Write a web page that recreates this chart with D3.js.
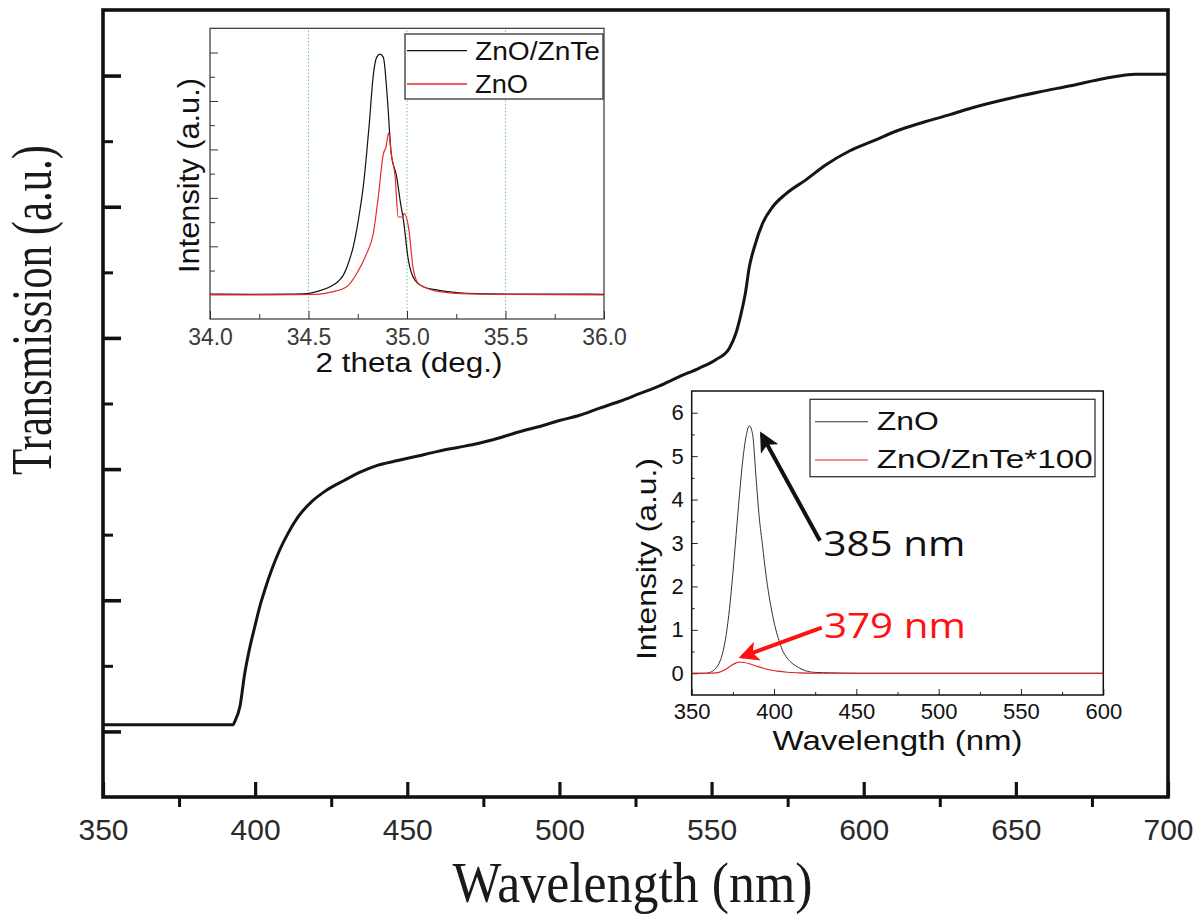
<!DOCTYPE html>
<html><head><meta charset="utf-8">
<script src="https://cdn.jsdelivr.net/npm/d3@7"></script>
<style>body{margin:0;background:#fff}</style>
</head><body>
<svg id="c" width="1200" height="918"></svg>
<script>
// ---------- Main transmission spectrum ----------
const transWavelength = [350,392.7,393.3,395.0,396.6,398.3,399.9,401.5,403.2,405.4,408.1,410.8,414.1,418.5,422.9,429.4,434.9,440.4,446.9,453.5,460.1,466.6,473.2,479.8,486.9,493.5,500.0,506.6,513.2,519.7,526.3,532.9,539.4,546.0,551.5,555.8,558.0,559.7,561.1,562.4,564.1,566.8,570.1,574.5,581.0,587.6,595.3,602.9,611.7,620.4,628.1,635.7,646.7,657.6,668.5,679.5,689.4,699.6];
const transValue = [1.10,1.10,1.15,1.38,1.89,2.29,2.60,2.90,3.16,3.46,3.77,4.02,4.27,4.50,4.66,4.83,4.96,5.06,5.13,5.20,5.27,5.33,5.39,5.47,5.57,5.65,5.74,5.82,5.93,6.03,6.15,6.27,6.41,6.54,6.67,6.84,7.07,7.37,7.68,8.08,8.39,8.75,9.00,9.20,9.41,9.64,9.85,10.00,10.17,10.30,10.40,10.51,10.64,10.75,10.85,10.96,11.02,11.02];
const mainXMajor = [350,400,450,500,550,600,650,700];
const mainXMinor = [375,425,475,525,575,625,675];
const mainYMajor = [1,3,5,7,9,11];
const mainYMinor = [2,4,6,8,10];

// ---------- XRD inset ----------
const xrdThetaA = [34.00,34.20,34.40,34.49,34.55,34.61,34.65,34.677,34.70,34.727,34.745,34.761,34.78,34.795,34.81,34.826,34.846,34.863,34.88,34.90,34.92,34.948,34.965,34.982,35.007,35.04,35.083,35.15,35.218,35.30,35.50,35.80,36.00];
const xrdZnOZnTe = [1.03,1.02,1.03,1.05,1.15,1.33,1.55,1.81,2.25,2.98,3.70,4.49,5.60,6.82,8.20,9.84,10.80,10.93,10.80,9.15,6.82,5.86,4.90,4.07,2.43,1.60,1.33,1.20,1.12,1.06,1.03,1.03,1.02];
const xrdThetaB = [34.00,34.30,34.54,34.62,34.694,34.745,34.795,34.829,34.854,34.88,34.893,34.907,34.92,34.94,34.955,34.977,34.985,35.01,35.03,35.057,35.13,35.25,35.50,36.00];
const xrdZnO = [1.00,1.00,1.02,1.12,1.33,1.88,2.70,3.53,5.03,6.82,7.09,7.67,6.82,5.86,4.21,4.21,4.35,3.66,2.15,1.47,1.19,1.06,1.02,1.00];
const xrdXMajor = [34.0,34.5,35.0,35.5,36.0];
const xrdXMinor = [34.25,34.75,35.25,35.75];
const xrdGrid = [34.5,35.0,35.5];
const xrdYMajor = [3,5,7,9,11];
const xrdYMinor = [2,4,6,8,10];
const xrdLegend = ["ZnO/ZnTe","ZnO"];

// ---------- PL inset ----------
const plWavelengthA = [350,358,361,363,365,367,369,371,373,375,377,379,381,383,385,387,389,391,393,395,397,399,401,403,405,408,411,415,419,425,435,450,600];
const plZnO = [0,0,0.02,0.06,0.13,0.26,0.5,0.9,1.5,2.3,3.2,4.1,4.9,5.45,5.7,5.5,4.55,3.6,2.95,2.3,1.78,1.36,1.02,0.76,0.54,0.35,0.23,0.13,0.06,0.02,0.01,0,0];
const plWavelengthB = [350,360,365,368,371,374,377,379,382,385,389,393,397,402,408,415,425,600];
const plZnOZnTe100 = [0,0,0.01,0.04,0.1,0.18,0.24,0.26,0.25,0.22,0.17,0.12,0.08,0.05,0.025,0.01,0,0];
const plXTicks = [350,400,450,500,550,600];
const plXMinor = [375,425,475,525,575];
const plYTicks = [0,1,2,3,4,5,6];
const plYMinor = [0.5,1.5,2.5,3.5,4.5,5.5];
const plLegend = ["ZnO","ZnO/ZnTe*100"];
const annotLabels = ["385 nm","379 nm"];
const annotTextPos = [[430,2.7],[430.3,0.82]];
const arrowFrom = [[427.9,3.05],[429.0,1.05]];
const arrowTo = [[392.5,5.5],[380.4,0.38]];

const svg = d3.select("#c");
const SANS = "'Liberation Sans', Arial, sans-serif";
const SERIF = "'Liberation Serif', 'Times New Roman', serif";

// ---------- main ----------
const x = d3.scaleLinear([350,700],[103,1168]);
const y = d3.scaleLinear([0,12],[797,10]);

const gx = svg.append("g").attr("transform",`translate(0,${y(0)})`);
gx.call(d3.axisBottom(x).tickValues(mainXMajor).tickSize(-15).tickPadding(22).tickFormat(d3.format("d")));
gx.select(".domain").remove();
gx.selectAll(".tick line").attr("stroke","#111").attr("stroke-width",3.2);
gx.selectAll(".tick text").attr("font-family",SANS).attr("font-size",30).attr("fill","#2a2a2a");
const gxm = svg.append("g").attr("transform",`translate(0,${y(0)})`);
gxm.call(d3.axisBottom(x).tickValues(mainXMinor).tickSize(10).tickFormat(""));
gxm.select(".domain").remove();
gxm.selectAll(".tick line").attr("stroke","#111").attr("stroke-width",3);

const gy = svg.append("g").attr("transform",`translate(${x(350)},0)`);
gy.call(d3.axisLeft(y).tickValues(mainYMajor).tickSize(-18).tickFormat(""));
gy.select(".domain").remove();
gy.selectAll(".tick line").attr("stroke","#111").attr("stroke-width",3.6);
const gym = svg.append("g").attr("transform",`translate(${x(350)},0)`);
gym.call(d3.axisLeft(y).tickValues(mainYMinor).tickSize(-10).tickFormat(""));
gym.select(".domain").remove();
gym.selectAll(".tick line").attr("stroke","#111").attr("stroke-width",3);

svg.append("rect").attr("x",x(350)).attr("y",y(12)).attr("width",x(700)-x(350)).attr("height",y(0)-y(12))
  .attr("fill","none").attr("stroke","#111").attr("stroke-width",3.6);

const mainLine = d3.line().x((d,i)=>x(transWavelength[i])).y(d=>y(d)).curve(d3.curveMonotoneX);
svg.append("path").attr("d",mainLine(transValue)).attr("fill","none").attr("stroke","#151515").attr("stroke-width",3);

svg.append("text").attr("x",(x(350)+x(700))/2-3).attr("y",902).attr("text-anchor","middle")
  .attr("font-family",SERIF).attr("font-size",56).attr("fill","#1a1a1a")
  .attr("textLength",360).attr("lengthAdjust","spacingAndGlyphs").text("Wavelength (nm)");
svg.append("text").attr("transform",`translate(51,310) rotate(-90)`).attr("text-anchor","middle")
  .attr("font-family",SERIF).attr("font-size",56).attr("fill","#1a1a1a")
  .attr("textLength",330).attr("lengthAdjust","spacingAndGlyphs").text("Transmission (a.u.)");

// ---------- XRD inset ----------
const xx = d3.scaleLinear([34,36],[210,604]);
const xy = d3.scaleLinear([0,12],[319,28.3]);
svg.append("rect").attr("x",xx(34)).attr("y",xy(12)).attr("width",xx(36)-xx(34)).attr("height",xy(0)-xy(12)).attr("fill","#fff");
svg.append("g").selectAll("line").data(xrdGrid).join("line")
  .attr("x1",d=>xx(d)).attr("x2",d=>xx(d)).attr("y1",xy(0)).attr("y2",xy(12))
  .attr("stroke","#6ccf6c").attr("stroke-width",1).attr("stroke-dasharray","1.5,2");
const ixa = svg.append("g").attr("transform",`translate(0,${xy(0)})`);
ixa.call(d3.axisBottom(xx).tickValues(xrdXMajor).tickSize(-8).tickPadding(10).tickFormat(d3.format(".1f")));
ixa.select(".domain").remove();
ixa.selectAll(".tick line").attr("stroke","#333");
ixa.selectAll(".tick text").attr("font-family",SANS).attr("font-size",23).attr("fill","#3a3a3a");
const ixm = svg.append("g").attr("transform",`translate(0,${xy(0)})`);
ixm.call(d3.axisBottom(xx).tickValues(xrdXMinor).tickSize(-5).tickFormat(""));
ixm.select(".domain").remove(); ixm.selectAll(".tick line").attr("stroke","#333");
const iya = svg.append("g").attr("transform",`translate(${xx(34)},0)`);
iya.call(d3.axisLeft(xy).tickValues(xrdYMajor).tickSize(-8).tickFormat(""));
iya.select(".domain").remove(); iya.selectAll(".tick line").attr("stroke","#333");
const iym = svg.append("g").attr("transform",`translate(${xx(34)},0)`);
iym.call(d3.axisLeft(xy).tickValues(xrdYMinor).tickSize(-5).tickFormat(""));
iym.select(".domain").remove(); iym.selectAll(".tick line").attr("stroke","#333");
svg.append("rect").attr("x",xx(34)).attr("y",xy(12)).attr("width",xx(36)-xx(34)).attr("height",xy(0)-xy(12))
  .attr("fill","none").attr("stroke","#333").attr("stroke-width",1.2);

const xrdLineA = d3.line().x((d,i)=>xx(xrdThetaA[i])).y(d=>xy(d)).curve(d3.curveMonotoneX);
const xrdLineB = d3.line().x((d,i)=>xx(xrdThetaB[i])).y(d=>xy(d)).curve(d3.curveMonotoneX);
svg.append("path").attr("d",xrdLineA(xrdZnOZnTe)).attr("fill","none").attr("stroke","#111").attr("stroke-width",1.2);
svg.append("path").attr("d",xrdLineB(xrdZnO)).attr("fill","none").attr("stroke","#e8282a").attr("stroke-width",1.2);

svg.append("text").attr("x",(xx(34)+xx(36))/2+2).attr("y",372).attr("text-anchor","middle")
  .attr("font-family",SANS).attr("font-size",27).attr("fill","#111")
  .attr("textLength",187).attr("lengthAdjust","spacingAndGlyphs").text("2 theta (deg.)");
svg.append("text").attr("transform",`translate(199,175.5) rotate(-90)`).attr("text-anchor","middle")
  .attr("font-family",SANS).attr("font-size",30).attr("fill","#111")
  .attr("textLength",195).attr("lengthAdjust","spacingAndGlyphs").text("Intensity (a.u.)");

const leg1 = svg.append("g");
leg1.append("rect").attr("x",405).attr("y",34).attr("width",198).attr("height",65).attr("fill","#fff").attr("stroke","#333").attr("stroke-width",1.3);
const leg1Colors = ["#111","#e8282a"];
const leg1Y = [50.7,84];
const leg1W = [125,53];
xrdLegend.forEach((t,i)=>{
  leg1.append("line").attr("x1",407).attr("x2",467).attr("y1",leg1Y[i]).attr("y2",leg1Y[i]).attr("stroke",leg1Colors[i]).attr("stroke-width",1.3);
  leg1.append("text").attr("x",475).attr("y",leg1Y[i]+9).attr("font-family",SANS).attr("font-size",25).attr("fill","#111")
    .attr("textLength",leg1W[i]).attr("lengthAdjust","spacingAndGlyphs").text(t);
});

// ---------- PL inset ----------
const px = d3.scaleLinear([350,600],[691.7,1103.3]);
const py = d3.scaleLinear([-0.5,6.5],[695,391]);
svg.append("rect").attr("x",px(350)).attr("y",py(6.5)).attr("width",px(600)-px(350)).attr("height",py(-0.5)-py(6.5)).attr("fill","#fff");
const pxa = svg.append("g").attr("transform",`translate(0,${py(-0.5)})`);
pxa.call(d3.axisBottom(px).tickValues(plXTicks).tickSize(-6).tickPadding(8).tickFormat(d3.format("d")));
pxa.select(".domain").remove(); pxa.selectAll(".tick line").attr("stroke","#222");
pxa.selectAll(".tick text").attr("font-family",SANS).attr("font-size",22).attr("fill","#111");
const pxm = svg.append("g").attr("transform",`translate(0,${py(-0.5)})`);
pxm.call(d3.axisBottom(px).tickValues(plXMinor).tickSize(-3).tickFormat(""));
pxm.select(".domain").remove(); pxm.selectAll(".tick line").attr("stroke","#222");
const pya = svg.append("g").attr("transform",`translate(${px(350)},0)`);
pya.call(d3.axisLeft(py).tickValues(plYTicks).tickSize(-6).tickPadding(8).tickFormat(d3.format("d")));
pya.select(".domain").remove(); pya.selectAll(".tick line").attr("stroke","#222");
pya.selectAll(".tick text").attr("font-family",SANS).attr("font-size",22).attr("fill","#111");
const pym = svg.append("g").attr("transform",`translate(${px(350)},0)`);
pym.call(d3.axisLeft(py).tickValues(plYMinor).tickSize(-3).tickFormat(""));
pym.select(".domain").remove(); pym.selectAll(".tick line").attr("stroke","#222");
svg.append("rect").attr("x",px(350)).attr("y",py(6.5)).attr("width",px(600)-px(350)).attr("height",py(-0.5)-py(6.5))
  .attr("fill","none").attr("stroke","#111").attr("stroke-width",1.5);

const plLineA = d3.line().x((d,i)=>px(plWavelengthA[i])).y(d=>py(d)).curve(d3.curveMonotoneX);
const plLineB = d3.line().x((d,i)=>px(plWavelengthB[i])).y(d=>py(d)).curve(d3.curveMonotoneX);
svg.append("path").attr("d",plLineA(plZnO)).attr("fill","none").attr("stroke","#333").attr("stroke-width",1);
svg.append("path").attr("d",plLineB(plZnOZnTe100)).attr("fill","none").attr("stroke","#e61e1e").attr("stroke-width",1.1);

svg.append("text").attr("x",(px(350)+px(600))/2).attr("y",750).attr("text-anchor","middle")
  .attr("font-family",SANS).attr("font-size",27).attr("fill","#111")
  .attr("textLength",250).attr("lengthAdjust","spacingAndGlyphs").text("Wavelength (nm)");
svg.append("text").attr("transform",`translate(656,559) rotate(-90)`).attr("text-anchor","middle")
  .attr("font-family",SANS).attr("font-size",27).attr("fill","#111")
  .attr("textLength",202).attr("lengthAdjust","spacingAndGlyphs").text("Intensity (a.u.)");

const leg2 = svg.append("g");
leg2.append("rect").attr("x",810).attr("y",399.3).attr("width",285).attr("height",77.4).attr("fill","#fff").attr("stroke","#333").attr("stroke-width",1.3);
const leg2Colors = ["#333","#e61e1e"];
const leg2Y = [421.7,460];
const leg2W = [62,216];
plLegend.forEach((t,i)=>{
  leg2.append("line").attr("x1",815).attr("x2",868).attr("y1",leg2Y[i]).attr("y2",leg2Y[i]).attr("stroke",leg2Colors[i]).attr("stroke-width",1.1);
  leg2.append("text").attr("x",876.7).attr("y",leg2Y[i]+8).attr("font-family",SANS).attr("font-size",25).attr("fill","#111")
    .attr("textLength",leg2W[i]).attr("lengthAdjust","spacingAndGlyphs").text(t);
});

// arrows + annotations
const annColors = ["#111","#ff1111"];
const defs = svg.append("defs");
annColors.forEach((c,i)=>{
  defs.append("marker").attr("id","ah"+i).attr("viewBox","0 0 12 12").attr("refX",10).attr("refY",6)
    .attr("markerWidth",5).attr("markerHeight",5).attr("orient","auto").attr("markerUnits","strokeWidth")
    .append("path").attr("d","M0,0 L12,6 L0,12 L3,6 Z").attr("fill",c);
});
arrowFrom.forEach((f,i)=>{
  svg.append("line").attr("x1",px(f[0])).attr("y1",py(f[1])).attr("x2",px(arrowTo[i][0])).attr("y2",py(arrowTo[i][1]))
    .attr("stroke",annColors[i]).attr("stroke-width",4).attr("marker-end",`url(#ah${i})`);
});
annotLabels.forEach((t,i)=>{
  svg.append("text").attr("x",px(annotTextPos[i][0])).attr("y",py(annotTextPos[i][1]))
    .attr("font-family","'Open Sans','Noto Sans',sans-serif").attr("font-size",35).attr("fill",annColors[i])
    .attr("textLength",142).attr("lengthAdjust","spacingAndGlyphs").text(t);
});
</script>
</body></html>
